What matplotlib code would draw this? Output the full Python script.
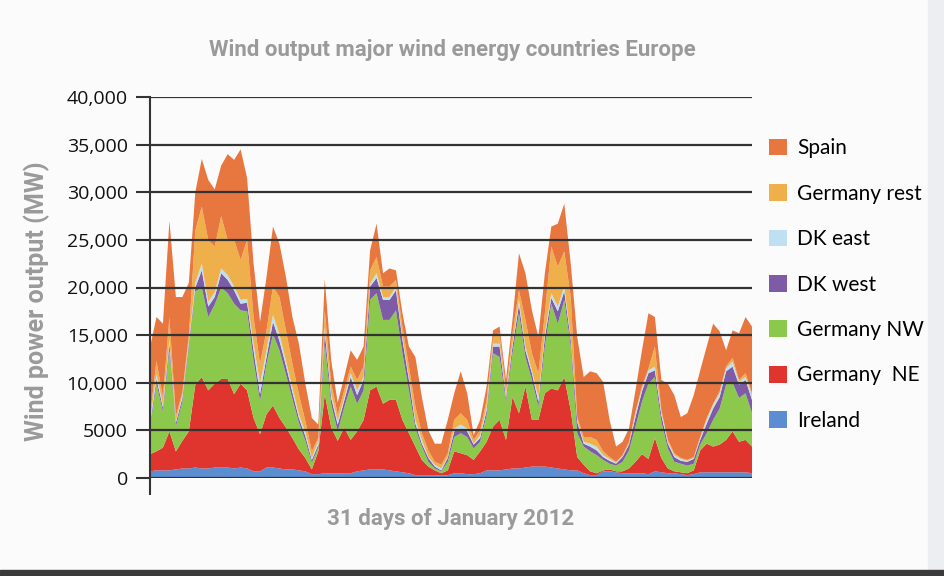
import numpy as np
import matplotlib
matplotlib.use("Agg")
import matplotlib.pyplot as plt
from matplotlib.patches import Patch, Rectangle

# hourly data sampled every 8 hours over January 2012 (MW)
hours = np.arange(0, 745, 8)

ireland = [700, 800, 800, 800, 900, 1000, 1000, 1100, 1000, 1000, 1100, 1100, 1100, 1000, 1100, 1000,
           700, 700, 1100, 1100, 1000, 900, 900, 800, 700, 400, 400, 500, 500, 500, 500,
           500, 700, 800, 900, 900, 900, 800, 700, 600, 500, 300, 300, 300, 300, 250, 300,
           500, 500, 400, 400, 500, 800, 800, 800, 900, 1000, 1000, 1100, 1200, 1200, 1200,
           1100, 1000, 900, 800, 800, 500, 300, 300, 700, 700, 600, 500, 500, 500, 500, 400,
           700, 600, 500, 500, 400, 300, 400, 600, 600, 600, 600, 600, 600, 600, 600, 500]
germany_ne = [1800, 2000, 2400, 4100, 1900, 2900, 3900, 8700, 9600, 8200, 8800, 9300, 9300, 7800, 8800, 8200,
              5600, 3900, 5600, 6500, 5300, 4400, 3300, 2200, 1400, 500, 2400, 8300, 4800, 3400, 4800,
              3500, 4200, 5300, 8300, 8700, 6900, 7400, 7500, 5500, 4200, 3000, 1600, 900, 500, 250, 500,
              2300, 2100, 2000, 1500, 2300, 3000, 4600, 5300, 3100, 7500, 5800, 8500, 4900, 4900, 7700,
              8300, 8200, 9700, 6300, 1400, 900, 400, 200, 100, 200, 100, 200, 500, 1200, 2000, 1600,
              3500, 1500, 500, 200, 200, 200, 400, 2300, 3000, 2700, 2900, 3400, 4300, 3200, 3400, 2800]
germany_nw = [2800, 7100, 3800, 8500, 2600, 4100, 8800, 9800, 9400, 7700, 8300, 9600, 9000, 9500, 7700, 8300,
              6000, 3500, 5300, 7500, 7100, 5600, 4100, 2800, 1800, 700, 400, 5300, 2400, 1000, 2100,
              5600, 2900, 3100, 9500, 9800, 8800, 8400, 9400, 7000, 4500, 1900, 1400, 500, 200, 200, 900,
              1500, 2100, 1900, 1200, 1000, 2800, 7700, 6600, 4000, 4600, 10500, 3100, 4200, 1400, 4900,
              8900, 7000, 8100, 6700, 2500, 1900, 2100, 1900, 1100, 600, 600, 1000, 1900, 3700, 5500, 7900,
              6400, 3800, 2100, 1000, 900, 800, 700, 600, 1100, 2800, 3800, 5800, 5100, 4600, 4900, 3500]
dk_west = [300, 500, 400, 700, 400, 400, 400, 400, 1800, 1100, 800, 1500, 1400, 1400, 700, 900,
           1100, 700, 700, 1300, 1000, 900, 700, 500, 500, 300, 300, 1200, 700, 700, 700,
           1000, 900, 1100, 1400, 1600, 2100, 2100, 2100, 1400, 1100, 500, 300, 400, 200, 100, 400,
           600, 500, 600, 400, 400, 500, 700, 1100, 400, 700, 900, 700, 700, 500, 1000,
           600, 1300, 900, 700, 1200, 300, 500, 500, 300, 300, 200, 500, 600, 1000, 1100, 1100,
           700, 700, 500, 500, 300, 400, 500, 500, 1000, 1200, 1200, 1400, 1700, 1400, 1400, 1400]
dk_east = [300, 500, 300, 400, 200, 300, 300, 500, 700, 500, 500, 500, 500, 400, 400, 400,
           700, 1100, 700, 700, 700, 500, 500, 400, 400, 200, 400, 500, 400, 400, 300,
           400, 500, 300, 300, 500, 300, 300, 400, 300, 300, 400, 400, 100, 200, 200, 100,
           300, 400, 300, 100, 300, 400, 300, 300, 300, 300, 500, 400, 300, 500, 400,
           500, 500, 500, 300, 200, 200, 300, 400, 200, 200, 100, 100, 100, 400, 300, 300,
           400, 400, 200, 200, 200, 100, 100, 200, 400, 400, 400, 300, 500, 300, 300, 500]
germany_rest = [600, 1400, 800, 2400, 500, 300, 600, 5500, 6000, 6500, 4800, 5500, 3700, 4900, 4200, 6200,
                2800, 2100, 2100, 3000, 3900, 3200, 2500, 2100, 1200, 700, 300, 1800, 1100, 700, 800,
                700, 1100, 1100, 1400, 1700, 1100, 1100, 700, 1100, 1100, 1400, 700, 700, 300, 400, 400,
                900, 1200, 900, 400, 500, 700, 700, 1100, 500, 1100, 1000, 2800, 1800, 2500, 2100,
                4900, 4200, 3700, 4200, 300, 500, 700, 700, 400, 200, 100, 100, 200, 200, 200, 200,
                2100, 100, 200, 200, 100, 100, 100, 100, 200, 100, 200, 200, 400, 200, 400, 200]
spain = [7200, 4600, 7700, 10100, 12500, 10000, 5500, 4000, 5000, 6300, 6000, 5300, 9000, 8400, 11600, 6500,
         5600, 4400, 5600, 6300, 5600, 5600, 4900, 5300, 3900, 3500, 1400, 3300, 2400, 1200, 1400,
         1700, 2100, 2100, 2100, 3500, 1400, 1900, 1000, 1400, 2100, 5200, 3800, 2100, 1900, 2200, 3500,
         2800, 4400, 2800, 500, 1100, 1400, 700, 700, 1100, 1400, 3900, 4900, 4500, 3800, 4200,
         2100, 4500, 5000, 3500, 8400, 6300, 6900, 7000, 7300, 3900, 1600, 1400, 1400, 2200, 3800, 5800,
         3100, 3200, 5900, 6100, 4300, 4900, 6500, 7000, 7500, 8400, 6300, 1700, 2900, 4900, 5900, 7000]

series = [ireland, germany_ne, germany_nw, dk_west, dk_east, germany_rest, spain]
names = ['Ireland', 'Germany  NE', 'Germany NW', 'DK west', 'DK east', 'Germany rest', 'Spain']
colors = ['#5b8dd0', '#e0352f', '#8cc84b', '#7d5ba6', '#bfe0f2', '#efb04c', '#e8763f']

yticks = [0, 5000, 10000, 15000, 20000, 25000, 30000, 35000, 40000]
ytick_labels = ['0', '5000', '10,000', '15,000', '20,000', '25,000', '30,000', '35,000', '40,000']

fig = plt.figure(figsize=(9.45, 5.76), dpi=100)
fig.patch.set_facecolor('#fbfbfb')
# scanned page edges
fig.patches.append(Rectangle((0.982, 0), 0.018, 1, transform=fig.transFigure,
                             color='#eceef1', zorder=0))
fig.patches.append(Rectangle((0, 0), 1, 0.010, transform=fig.transFigure,
                             color='#3a3a3a', zorder=0))

ax = fig.add_axes([150 / 945, 1 - 478 / 576, 602 / 945, 381 / 576])
ax.set_facecolor('none')
ax.stackplot(hours / 24, *series, colors=colors, linewidth=0, zorder=1)

ax.set_xlim(0, 31)
ax.set_ylim(0, 40000)
ax.set_yticks(yticks)
ax.set_yticklabels(ytick_labels, fontsize=14, family=['Open Sans', 'DejaVu Sans'], color='#111111')
ax.set_xticks([0])
ax.set_xticklabels([''])
ax.tick_params(axis='y', length=10, width=1.5, color='#333333', pad=6)
ax.tick_params(axis='x', length=12, width=1.5, color='#333333')
for y in yticks:
    ax.axhline(y, color='#333333', linewidth=1.6, zorder=3)

for side in ['top', 'right', 'bottom']:
    ax.spines[side].set_visible(False)
ax.spines['left'].set_color('#333333')
ax.spines['left'].set_linewidth(1.5)
ax.spines['left'].set_zorder(4)

grey = '#9a9a9a'
label_font = ['Roboto', 'DejaVu Sans']
fig.text(452 / 945, 1 - 50 / 576, 'Wind output major wind energy countries Europe',
         ha='center', va='center', fontsize=16, fontweight='bold', color=grey, family=label_font)
ax.set_ylabel('Wind power output (MW)', fontsize=18, fontweight='bold', color=grey,
              family=label_font)
ax.yaxis.set_label_coords(-0.166, 0.465)
ax.set_xlabel('31 days of January 2012', fontsize=16, fontweight='bold', color=grey,
              family=label_font, labelpad=6)

handles = [Patch(facecolor=c, edgecolor='none') for c in colors][::-1]
leg = fig.legend(handles, names[::-1], loc='upper left', bbox_to_anchor=(761 / 945, 1 - 130 / 576),
                 frameon=False, handlelength=0.85, handleheight=0.85,
                 handletextpad=0.5, labelspacing=1.22, borderaxespad=0,
                 prop={'family': ['Lato', 'DejaVu Sans'], 'size': 15})

fig.savefig('out.png', dpi=100, facecolor=fig.get_facecolor())
